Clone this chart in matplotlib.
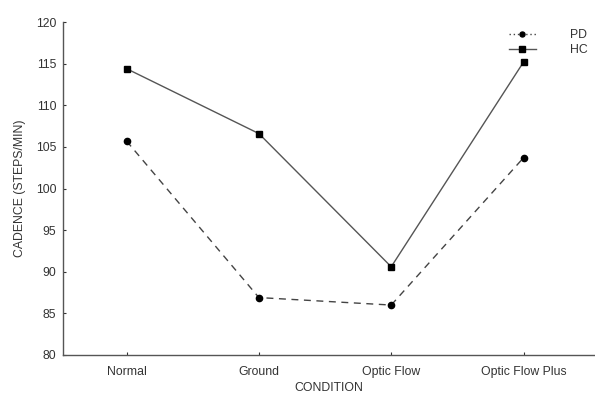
import matplotlib
matplotlib.use("Agg")
import matplotlib.pyplot as plt

conditions = ["Normal", "Ground", "Optic Flow", "Optic Flow Plus"]
pd_cadence = [105.7, 86.9, 86.0, 103.7]
hc_cadence = [114.4, 106.6, 90.6, 115.2]

plt.rcParams['font.family'] = ['Liberation Sans', 'DejaVu Sans']
txt = '#333333'

fig = plt.figure(figsize=(5.95, 3.94), dpi=100)
ax = fig.add_axes([0.106, 0.099, 0.894, 0.845])

x = list(range(len(conditions)))
ax.plot(x, pd_cadence, color='#444444', lw=1.0, ls=(0, (5, 4)),
        marker='o', ms=4.5, mfc='black', mec='black', label='PD')
ax.plot(x, hc_cadence, color='#555555', lw=1.0, ls='-',
        marker='s', ms=5, mfc='black', mec='black', label='HC')

ax.set_xlim(-0.48, 3.54)
ax.set_ylim(80, 120)
ax.set_yticks(range(80, 121, 5))
ax.set_xticks(x)
ax.set_xticklabels(conditions)
ax.tick_params(direction='in', length=2, labelsize=8.8, colors=txt, pad=8)
ax.tick_params(axis='y', pad=5)
for s in ['top', 'right']:
    ax.spines[s].set_visible(False)
for s in ['left', 'bottom']:
    ax.spines[s].set_color('#555555')
    ax.spines[s].set_linewidth(1.0)

ax.set_xlabel("CONDITION", fontsize=8.8, color=txt, labelpad=3)
ax.set_ylabel("CADENCE (STEPS/MIN)", fontsize=8.8, color=txt, labelpad=7)

leg = ax.legend(loc='upper right', bbox_to_anchor=(1.0, 1.0), frameon=False,
                fontsize=8.8, handlelength=2.2, handletextpad=2.8,
                labelspacing=0.25, labelcolor=txt, borderaxespad=0.2,
                markerscale=0.8)
leg.get_lines()[0].set_linestyle((0, (1, 2)))

fig.savefig("out.png", dpi=100)
